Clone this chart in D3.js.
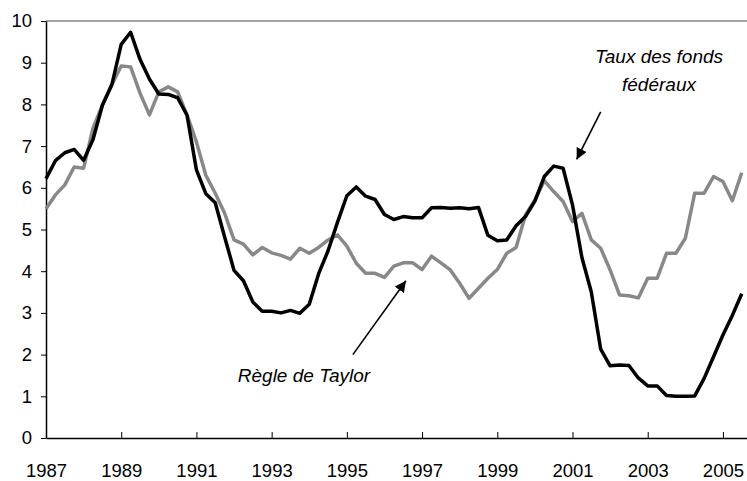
<!DOCTYPE html>
<html>
<head>
<meta charset="utf-8">
<script src="https://cdn.jsdelivr.net/npm/d3@7"></script>
<style>
  body { margin: 0; background: #fff; }
  svg text { font-family: Arial, "Liberation Sans", sans-serif; }
</style>
</head>
<body>
<div id="chart"></div>
<script>
// quarterly data, 1987Q1 .. 2005Q3
const quarters = d3.range(75).map(i => 1987 + i / 4);

const fedFunds = [
  6.22, 6.65, 6.84, 6.92,
  6.66, 7.16, 7.98, 8.47,
  9.44, 9.73, 9.08, 8.61,
  8.25, 8.24, 8.16, 7.74,
  6.43, 5.86, 5.64, 4.82,
  4.02, 3.77, 3.26, 3.04,
  3.04, 3.00, 3.06, 2.99,
  3.21, 3.94, 4.49, 5.17,
  5.81, 6.02, 5.80, 5.72,
  5.36, 5.24, 5.31, 5.28,
  5.28, 5.52, 5.53, 5.51,
  5.52, 5.50, 5.53, 4.86,
  4.73, 4.75, 5.09, 5.31,
  5.68, 6.27, 6.52, 6.47,
  5.59, 4.33, 3.50, 2.13,
  1.73, 1.75, 1.74, 1.44,
  1.25, 1.25, 1.02, 1.00,
  1.00, 1.01, 1.43, 1.95,
  2.47, 2.94, 3.46
];

const taylorRule = [
  5.50, 5.83, 6.07, 6.50,
  6.47, 7.43, 7.99, 8.47,
  8.92, 8.90, 8.27, 7.75,
  8.30, 8.42, 8.30, 7.75,
  7.10, 6.30, 5.87, 5.39,
  4.75, 4.65, 4.39, 4.57,
  4.44, 4.38, 4.29, 4.55,
  4.43, 4.57, 4.75, 4.87,
  4.60, 4.19, 3.95, 3.95,
  3.85, 4.12, 4.20, 4.20,
  4.04, 4.36, 4.20, 4.03,
  3.71, 3.35, 3.59, 3.83,
  4.04, 4.43, 4.57, 5.35,
  5.71, 6.17, 5.91, 5.67,
  5.19, 5.39, 4.75, 4.55,
  4.03, 3.43, 3.41, 3.36,
  3.83, 3.83, 4.43, 4.43,
  4.79, 5.87, 5.87, 6.27,
  6.15, 5.69, 6.36
];

const xTickYears = [1987, 1989, 1991, 1993, 1995, 1997, 1999, 2001, 2003, 2005];
const yTicks = [0, 1, 2, 3, 4, 5, 6, 7, 8, 9, 10];

const width = 747, height = 481;
const margin = { top: 21, right: 0, bottom: 43, left: 46 };

const svg = d3.select('#chart').append('svg')
  .attr('width', width)
  .attr('height', height);

const x = d3.scaleLinear()
  .domain([1987, 2005.64])
  .range([margin.left, width - margin.right]);

const y = d3.scaleLinear()
  .domain([0, 10])
  .range([height - margin.bottom, margin.top]);

// grey line at the top of the plot area
svg.append('line')
  .attr('x1', x(1987)).attr('x2', x.range()[1])
  .attr('y1', y(10)).attr('y2', y(10))
  .attr('stroke', '#888').attr('stroke-width', 1.5);

const yAxis = svg.append('g')
  .attr('transform', `translate(${margin.left},0)`)
  .call(d3.axisLeft(y).tickValues(yTicks).tickSizeInner(5).tickSizeOuter(0).tickPadding(9).tickFormat(d3.format('d')));

const xAxis = svg.append('g')
  .attr('transform', `translate(0,${y(0)})`)
  .call(d3.axisBottom(x).tickValues(xTickYears).tickSizeInner(-6).tickSizeOuter(0).tickPadding(39).tickFormat(d3.format('d')));

[xAxis, yAxis].forEach(g => {
  g.select('.domain').attr('stroke', '#000').attr('stroke-width', 1.5);
  g.selectAll('.tick line').attr('stroke', '#000').attr('stroke-width', 1);
  g.selectAll('.tick text').attr('fill', '#000').style('font-size', '18.5px');
});
xAxis.selectAll('.tick text').attr('dy', 0);

const line = d3.line()
  .x((d, i) => x(quarters[i]))
  .y(d => y(d));

svg.append('path')
  .datum(taylorRule)
  .attr('fill', 'none')
  .attr('stroke', '#888')
  .attr('stroke-width', 3.5)
  .attr('stroke-linejoin', 'round')
  .attr('d', line);

svg.append('path')
  .datum(fedFunds)
  .attr('fill', 'none')
  .attr('stroke', '#000')
  .attr('stroke-width', 3.5)
  .attr('stroke-linejoin', 'round')
  .attr('d', line);

// annotations
svg.append('defs').append('marker')
  .attr('id', 'arrow')
  .attr('viewBox', '0 0 10 10')
  .attr('refX', 10).attr('refY', 5)
  .attr('markerWidth', 7).attr('markerHeight', 7)
  .attr('markerUnits', 'strokeWidth')
  .attr('orient', 'auto')
  .append('path')
  .attr('d', 'M0,0 L10,5 L0,10 Z')
  .attr('fill', '#000');

const arrows = [
  { from: [2001.75, 7.82], to: [2001.11, 6.68] },
  { from: [1995.16, 2.0], to: [1996.57, 3.77] }
];
svg.selectAll('line.arrow')
  .data(arrows)
  .enter()
  .append('line')
  .attr('class', 'arrow')
  .attr('x1', d => x(d.from[0])).attr('y1', d => y(d.from[1]))
  .attr('x2', d => x(d.to[0])).attr('y2', d => y(d.to[1]))
  .attr('stroke', '#000')
  .attr('stroke-width', 1.6)
  .attr('marker-end', 'url(#arrow)');

const notes = [
  { text: 'Taux des fonds', at: [2003.3, 8.99], anchor: 'middle' },
  { text: 'fédéraux', at: [2003.3, 8.33], anchor: 'middle' },
  { text: 'Règle de Taylor', at: [1992.1, 1.34], anchor: 'start' }
];
svg.selectAll('text.note')
  .data(notes)
  .enter()
  .append('text')
  .attr('class', 'note')
  .attr('x', d => x(d.at[0]))
  .attr('y', d => y(d.at[1]))
  .attr('text-anchor', d => d.anchor)
  .style('font-size', '19px')
  .style('font-style', 'italic')
  .text(d => d.text);
</script>
</body>
</html>
